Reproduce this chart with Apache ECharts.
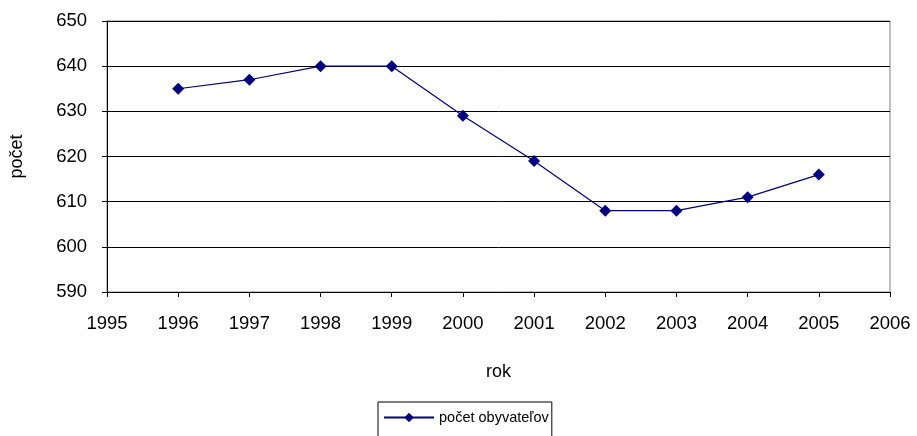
<!DOCTYPE html>
<html><head><meta charset="utf-8">
<script src="https://cdn.jsdelivr.net/npm/echarts@6/dist/echarts.min.js"></script>
<style>html,body{margin:0;padding:0;background:#fff}#c{width:917px;height:436px}</style>
</head><body><div id="c"></div>
<script>
var years = [1996, 1997, 1998, 1999, 2000, 2001, 2002, 2003, 2004, 2005];
var values = [635, 637, 640, 640, 629, 619, 608, 608, 611, 616];
var seriesName = 'počet obyvateľov';
var xTitle = 'rok';
var yTitle = 'počet';

var chart = echarts.init(document.getElementById('c'));
var font = 'Liberation Sans, Arial, sans-serif';
chart.setOption({
  animation: false,
  backgroundColor: '#fff',
  grid: {left: 103, right: 27, top: 21, bottom: 144, containLabel: false,
    show: true, borderColor: '#808080', borderWidth: 1},
  legend: {
    data: [seriesName], left: 378, top: 402,
    borderColor: '#000', borderWidth: 1, padding: [8, 3, 14, 5],
    itemWidth: 50, itemHeight: 12,
    textStyle: {fontFamily: font, fontSize: 14.5, color: '#000'}
  },
  xAxis: {
    type: 'value', min: 1995, max: 2006, interval: 1,
    name: xTitle, nameLocation: 'middle', nameGap: 71,
    nameTextStyle: {fontFamily: font, fontSize: 18, color: '#000'},
    axisLine: {lineStyle: {color: '#000', width: 1}},
    axisTick: {show: true, length: 5, inside: false, lineStyle: {color: '#000'}},
    axisLabel: {fontFamily: font, fontSize: 18.5, color: '#000', margin: 22,
      formatter: function (v) { return String(v); }},
    splitLine: {show: false}
  },
  yAxis: {
    type: 'value', min: 590, max: 650, interval: 10,
    name: yTitle, nameLocation: 'middle', nameGap: 81, nameRotate: 90,
    nameTextStyle: {fontFamily: font, fontSize: 18, color: '#000'},
    axisLine: {show: true, lineStyle: {color: '#000', width: 1}},
    axisTick: {show: true, length: 5, lineStyle: {color: '#000'}},
    axisLabel: {fontFamily: font, fontSize: 18.5, color: '#000', margin: 20,
      formatter: function (v) { return String(v); }},
    splitLine: {show: true, lineStyle: {color: '#000', width: 1}}
  },
  series: [{
    name: seriesName, type: 'line',
    data: years.map(function (y, i) { return [y, values[i]]; }),
    symbol: 'diamond', symbolSize: 12,
    lineStyle: {color: '#000080', width: 1.2},
    itemStyle: {color: '#000080'}
  }]
});
</script></body></html>
